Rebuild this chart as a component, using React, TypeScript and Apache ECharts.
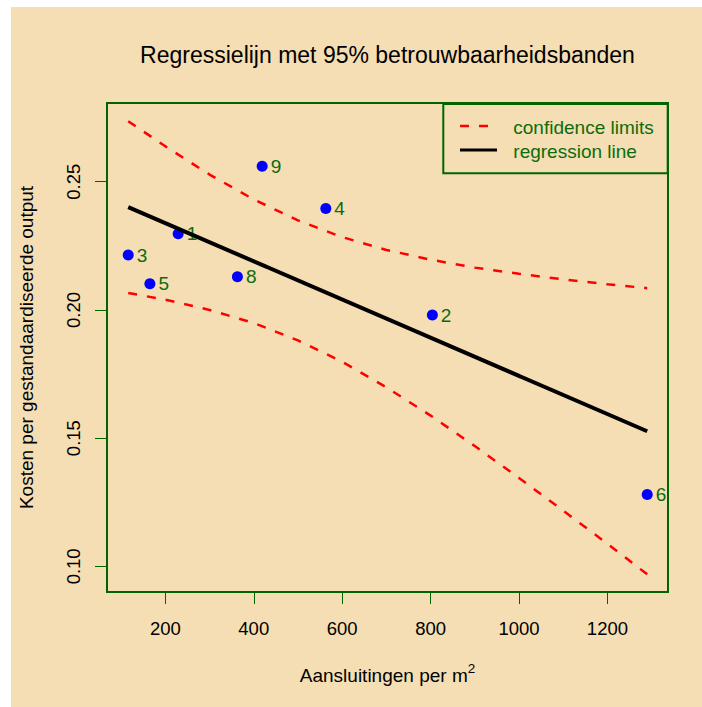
import React, { useEffect, useRef } from "react";
import * as echarts from "echarts";

// Observed points (labels as shown; no point 7)
const pointIds = ["1", "2", "3", "4", "5", "6", "8", "9"];
const xValues = [229, 804, 116, 563, 165, 1290, 363, 419];
const yValues = [0.2297, 0.198, 0.2214, 0.2396, 0.2102, 0.128, 0.2129, 0.256];

// Regression line end points
const regX = [116, 1290];
const regY = [0.2401, 0.1527];

// 95% confidence limits
const bandX = [116, 200, 300, 400, 500, 600, 700, 800, 900, 1000, 1100, 1200, 1290];
const upperY = [0.2736, 0.2638, 0.2528, 0.2431, 0.2349, 0.2284, 0.2234, 0.2196, 0.2165, 0.2141, 0.2119, 0.21, 0.2085];
const lowerY = [0.2066, 0.204, 0.2, 0.1949, 0.1881, 0.1798, 0.1698, 0.1588, 0.1469, 0.1345, 0.1217, 0.1088, 0.0969];

const xTicks = [200, 400, 600, 800, 1000, 1200];
const yTicks = [0.1, 0.15, 0.2, 0.25];

const titleText = "Regressielijn met 95% betrouwbaarheidsbanden";
const xTitle = "Aansluitingen per m";
const xTitleSup = "2";
const yTitle = "Kosten per gestandaardiseerde output";
const legendItems = ["confidence limits", "regression line"];

const FONT = "'Liberation Sans', Arial, Helvetica, sans-serif";
const GREEN = "#006400";
const TEXT_GREEN = "#0c6c0c";
const BG = "#F5DEB3";

export default function App() {
  const ref = useRef<HTMLDivElement>(null);

  useEffect(() => {
    if (!ref.current) return;
    const chart = echarts.init(ref.current, undefined, { renderer: "svg" });

    const points = xValues.map((x, i) => [x, yValues[i]]);
    const reg = regX.map((x, i) => [x, regY[i]]);
    const upper = bandX.map((x, i) => [x, upperY[i]]);
    const lower = bandX.map((x, i) => [x, lowerY[i]]);

    const dashed = {
      color: "#FF0000",
      width: 2.5,
      type: [9, 10] as any,
      cap: "butt" as any,
    };

    chart.setOption({
      animation: false,
      backgroundColor: BG,
      textStyle: { fontFamily: FONT },
      grid: {
        left: 96,
        top: 96,
        right: 34,
        bottom: 115,
        show: true,
        borderColor: GREEN,
        borderWidth: 2,
        backgroundColor: "transparent",
        containLabel: false,
      },
      xAxis: {
        type: "value",
        min: 68,
        max: 1337,
        axisLine: { show: false },
        splitLine: { show: false },
        axisTick: {
          show: true,
          length: 12,
          customValues: xTicks,
          lineStyle: { color: GREEN, width: 1 },
        },
        axisLabel: {
          customValues: xTicks,
          color: "#000",
          fontSize: 18.5,
          fontFamily: FONT,
          margin: 27,
          formatter: (v: number) => String(v),
        },
      },
      yAxis: {
        type: "value",
        min: 0.09,
        max: 0.2807,
        axisLine: { show: false },
        splitLine: { show: false },
        axisTick: {
          show: true,
          length: 12,
          customValues: yTicks,
          lineStyle: { color: GREEN, width: 1 },
        },
        axisLabel: {
          customValues: yTicks,
          rotate: 90,
          color: "#000",
          fontSize: 18.5,
          fontFamily: FONT,
          margin: 24,
          formatter: (v: number) => v.toFixed(2),
        },
      },
      series: [
        {
          type: "line",
          name: "upper",
          data: upper,
          showSymbol: false,
          symbol: "none",
          lineStyle: dashed,
          z: 2,
        },
        {
          type: "line",
          name: "lower",
          data: lower,
          showSymbol: false,
          symbol: "none",
          lineStyle: dashed,
          z: 2,
        },
        {
          type: "scatter",
          name: "points",
          data: points,
          symbol: "circle",
          symbolSize: 11,
          itemStyle: { color: "#0000FF", opacity: 1 },
          label: {
            show: true,
            position: "right",
            distance: 3,
            color: TEXT_GREEN,
            fontSize: 19,
            fontFamily: FONT,
            formatter: (p: any) => pointIds[p.dataIndex],
          },
          z: 3,
        },
        {
          type: "line",
          name: "regression",
          data: reg,
          showSymbol: false,
          symbol: "none",
          lineStyle: { color: "#000", width: 4 },
          z: 4,
        },
      ],
      graphic: [
        {
          type: "text",
          x: 376.5,
          y: 48,
          style: {
            text: titleText,
            fontSize: 23,
            fontFamily: FONT,
            fill: "#000",
            textAlign: "center",
            textVerticalAlign: "middle",
          },
        },
        {
          type: "text",
          x: 376.5,
          y: 668,
          style: {
            text: `{a|${xTitle}}{b|${xTitleSup}}`,
            textAlign: "center",
            textVerticalAlign: "middle",
            fill: "#000",
            rich: {
              a: { fontSize: 19, fontFamily: FONT, lineHeight: 27, verticalAlign: "middle", fill: "#000" },
              b: { fontSize: 13.5, fontFamily: FONT, lineHeight: 13.5, verticalAlign: "top", fill: "#000" },
            },
          },
        },
        {
          type: "text",
          x: 15,
          y: 340.5,
          rotation: Math.PI / 2,
          style: {
            text: yTitle,
            fontSize: 19,
            fontFamily: FONT,
            fill: "#000",
            textAlign: "center",
            textVerticalAlign: "middle",
          },
        },
        {
          type: "rect",
          shape: { x: 432.3, y: 97, width: 224.4, height: 69.3 },
          style: { fill: "none", stroke: GREEN, lineWidth: 2 },
          z: 10,
        },
        {
          type: "line",
          shape: { x1: 449, y1: 119, x2: 478.3, y2: 119 },
          style: { stroke: "#FF0000", lineWidth: 2.5, lineDash: [9, 10] },
          z: 10,
        },
        {
          type: "line",
          shape: { x1: 449, y1: 143, x2: 486, y2: 143 },
          style: { stroke: "#000", lineWidth: 3 },
          z: 10,
        },
        {
          type: "text",
          x: 502.3,
          y: 120.7,
          style: {
            text: legendItems[0],
            fontSize: 19,
            fontFamily: FONT,
            fill: TEXT_GREEN,
            textAlign: "left",
            textVerticalAlign: "middle",
          },
          z: 10,
        },
        {
          type: "text",
          x: 502.3,
          y: 144,
          style: {
            text: legendItems[1],
            fontSize: 19,
            fontFamily: FONT,
            fill: TEXT_GREEN,
            textAlign: "left",
            textVerticalAlign: "middle",
          },
          z: 10,
        },
      ],
    });

    return () => chart.dispose();
  }, []);

  return (
    <div
      style={{
        position: "fixed",
        left: 11,
        top: 7,
        width: 691,
        height: 700,
        background: BG,
      }}
    >
      <div ref={ref} style={{ width: 691, height: 700 }} />
    </div>
  );
}
